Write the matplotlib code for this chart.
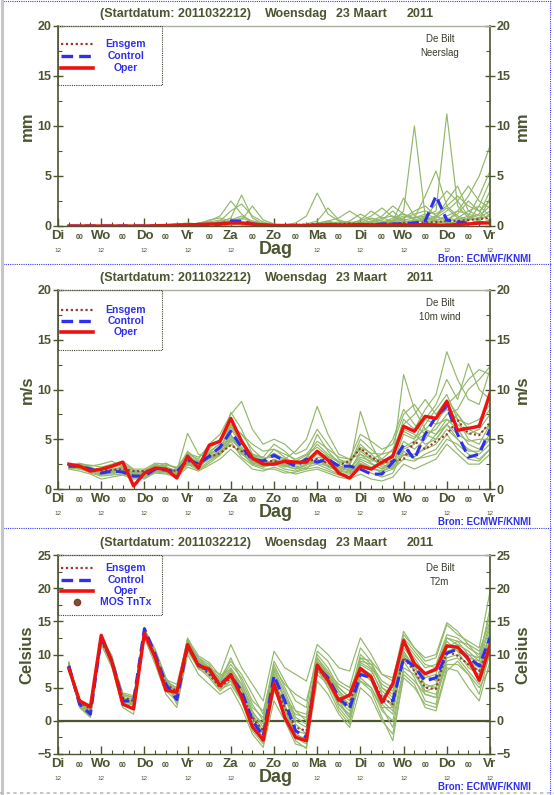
import matplotlib
matplotlib.use("Agg")
import matplotlib.pyplot as plt
from matplotlib.lines import Line2D
from matplotlib.patches import Rectangle

plt.rcParams["font.family"] = ["Liberation Sans", "DejaVu Sans"]

OLIVE = "#4b5530"
GREEN = "#93b86a"
BLUE = "#2f2ff0"
RED = "#ee1111"
ENSGEM = "#9a3a2a"

# forecast hours after 2011032212 (6-hourly, +6h .. +240h)
HOURS = list(range(6, 241, 6))
DAY_NAMES = ["Di", "Wo", "Do", "Vr", "Za", "Zo", "Ma", "Di", "Wo", "Do", "Vr"]

# ---- Neerslag (mm) ----
prec_oper = [0, 0, 0, 0, 0, 0, 0, 0, 0.02, 0.05, 0.1, 0.1, 0.15, 0.2, 0.2, 0.3, 0.3, 0.2, 0.1, 0.05,
             0.05, 0.05, 0.05, 0.1, 0.1, 0.1, 0.1, 0.15, 0.1, 0.1, 0.1, 0.1, 0.1, 0.15, 0.1, 0.1, 0.15, 0.2, 0.3, 0.3]
prec_control = [0, 0, 0, 0, 0, 0, 0, 0, 0, 0, 0.05, 0.1, 0.1, 0.1, 0.2, 0.5, 0.5, 0.2, 0.1, 0.05,
                0.05, 0.05, 0.05, 0.05, 0.1, 0.1, 0.05, 0.1, 0.1, 0.2, 0.2, 0.2, 0.3, 0.5, 3.0, 0.6, 0.4, 0.3, 0.3, 0.4]
prec_ensgem = [0, 0, 0, 0, 0, 0, 0, 0, 0.02, 0.05, 0.1, 0.15, 0.2, 0.2, 0.3, 0.35, 0.3, 0.2, 0.15, 0.1,
               0.1, 0.1, 0.15, 0.2, 0.2, 0.2, 0.25, 0.2, 0.2, 0.2, 0.25, 0.3, 0.35, 0.35, 0.4, 0.5, 0.5, 0.6, 0.7, 0.8]
prec_members = [
    [0, 0, 0, 0, 0, 0, 0, 0, 0, 0, 0, 0.1, 0.3, 0.5, 1.0, 2.5, 1.2, 0.3, 0.1, 0,
     0, 0, 0.1, 0.3, 0.5, 0.2, 0.1, 0.3, 0.8, 0.5, 0.4, 1.5, 10.0, 1.0, 0.5, 0.3, 0.8, 1.5, 2.0, 1.0],
    [0, 0, 0, 0, 0, 0, 0, 0, 0, 0, 0, 0, 0.1, 0.2, 0.4, 0.8, 3.1, 0.8, 0.2, 0,
     0, 0, 0, 0.1, 0.2, 0.1, 0, 0.1, 0.2, 0.4, 0.3, 0.6, 0.8, 1.0, 1.5, 11.2, 2.0, 0.8, 0.5, 1.2],
    [0, 0, 0, 0, 0, 0, 0, 0, 0, 0.1, 0.2, 0.3, 0.2, 0.6, 0.8, 0.5, 0.3, 0.1, 0, 0,
     0.1, 0.3, 1.0, 3.3, 1.2, 0.5, 0.2, 0.3, 0.2, 0.2, 0.4, 0.8, 1.5, 2.0, 1.0, 0.5, 1.5, 3.0, 5.0, 8.0],
    [0, 0, 0, 0, 0, 0, 0, 0, 0, 0, 0, 0, 0, 0.1, 0.3, 0.4, 0.6, 2.0, 0.6, 0.2,
     0.1, 0, 0, 0.2, 0.5, 0.8, 1.5, 0.8, 0.3, 0.2, 0.5, 2.8, 1.0, 0.5, 0.8, 2.5, 4.0, 1.5, 1.0, 2.0],
    [0, 0, 0, 0, 0, 0, 0, 0, 0, 0, 0, 0, 0.1, 0.1, 0.2, 0.3, 0.2, 0.1, 0, 0,
     0, 0, 0, 0, 0.1, 0.2, 0.5, 1.2, 0.6, 0.3, 0.2, 0.2, 0.4, 0.8, 0.5, 0.3, 0.4, 0.8, 1.2, 3.5],
    [0, 0, 0, 0, 0, 0, 0, 0, 0, 0, 0, 0.1, 0.2, 0.2, 0.5, 1.5, 2.2, 1.0, 0.4, 0.1,
     0, 0, 0, 0.1, 0.2, 0.3, 0.2, 0.1, 0.1, 0.3, 0.8, 1.2, 0.8, 3.0, 5.5, 2.0, 1.0, 0.6, 0.8, 1.5],
    [0, 0, 0, 0, 0, 0, 0, 0, 0, 0, 0, 0, 0, 0, 0.1, 0.2, 0.1, 0, 0, 0,
     0, 0, 0, 0, 0, 0.1, 0.1, 0.2, 0.4, 0.6, 1.5, 0.5, 0.3, 0.2, 0.3, 0.6, 1.2, 2.5, 1.5, 0.5],
    [0, 0, 0, 0, 0, 0, 0, 0, 0, 0, 0, 0, 0.2, 0.4, 0.6, 0.4, 0.2, 0.1, 0, 0,
     0, 0, 0.2, 0.5, 1.8, 0.6, 0.3, 0.2, 0.3, 0.8, 1.0, 0.5, 0.4, 0.6, 1.0, 1.8, 0.8, 0.5, 2.0, 4.5],
    [0, 0, 0, 0, 0, 0, 0, 0, 0, 0, 0, 0, 0, 0, 0, 0.1, 0.2, 0.2, 0.1, 0,
     0, 0, 0, 0, 0, 0, 0.1, 0.1, 0.1, 0.2, 0.2, 0.3, 0.2, 0.3, 0.5, 0.4, 0.3, 0.2, 0.3, 0.6],
    [0, 0, 0, 0, 0, 0, 0, 0, 0, 0, 0, 0.05, 0.1, 0.1, 0.2, 0.6, 1.0, 0.5, 0.2, 0.1,
     0, 0, 0.1, 0.2, 0.3, 0.4, 0.3, 0.5, 1.0, 1.8, 0.9, 0.4, 0.6, 0.9, 2.2, 3.5, 2.5, 1.0, 0.6, 2.8],
    [0, 0, 0, 0, 0, 0, 0, 0, 0, 0, 0, 0, 0.1, 0.2, 0.3, 0.5, 0.8, 0.4, 0.1, 0,
     0, 0, 0, 0.2, 0.4, 0.3, 0.2, 0.6, 1.5, 0.8, 0.5, 0.8, 1.2, 1.5, 1.2, 2.0, 3.0, 2.0, 1.5, 2.5],
    [0, 0, 0, 0, 0, 0, 0, 0, 0, 0, 0, 0, 0, 0.1, 0.2, 0.4, 0.3, 0.2, 0.1, 0,
     0, 0, 0, 0, 0.1, 0.1, 0.2, 0.3, 0.2, 0.4, 0.6, 1.0, 0.8, 1.2, 0.8, 1.5, 2.5, 4.0, 2.5, 1.8],
    [0, 0, 0, 0, 0, 0, 0, 0, 0, 0, 0, 0, 0.1, 0.2, 0.2, 0.3, 0.4, 0.3, 0.2, 0.1,
     0, 0, 0, 0.1, 0.2, 0.1, 0.1, 0.2, 0.3, 0.2, 0.3, 0.4, 0.5, 0.7, 0.6, 0.8, 0.6, 1.0, 3.0, 5.5],
    [0, 0, 0, 0, 0, 0, 0, 0, 0, 0, 0, 0, 0, 0, 0.1, 0.2, 0.3, 0.5, 0.3, 0.1,
     0, 0, 0, 0, 0, 0.2, 0.4, 0.3, 0.5, 1.0, 2.0, 1.2, 0.6, 0.4, 0.6, 1.0, 1.5, 1.2, 0.8, 1.0],
]

# ---- 10m wind (m/s) ----
wind_oper = [2.5, 2.3, 1.8, 2.0, 2.3, 2.7, 0.3, 1.6, 2.1, 2.0, 1.1, 3.3, 2.1, 4.4, 4.8, 7.1, 4.8, 3.1, 2.5, 2.5,
             2.8, 2.7, 2.7, 3.8, 2.9, 1.6, 1.1, 2.3, 2.0, 2.7, 3.3, 6.3, 5.8, 7.3, 7.1, 8.8, 5.9, 6.1, 6.3, 9.6]
wind_control = [2.3, 2.3, 2.0, 1.6, 1.8, 1.7, 1.3, 1.3, 2.0, 1.9, 1.7, 3.0, 2.5, 3.3, 4.2, 5.8, 4.2, 3.0, 2.8, 3.4,
                2.8, 2.3, 3.0, 2.7, 3.0, 2.3, 2.3, 2.0, 1.5, 1.5, 2.7, 4.4, 3.0, 5.5, 7.3, 8.3, 5.5, 3.2, 3.5, 6.0]
wind_ensgem = [2.3, 2.2, 2.0, 1.9, 1.9, 2.0, 1.8, 1.8, 2.0, 2.0, 1.8, 2.8, 2.6, 3.2, 3.6, 4.4, 3.8, 3.0, 2.8, 2.8,
               2.7, 2.6, 2.8, 3.0, 2.6, 2.4, 2.8, 4.1, 3.2, 2.6, 2.8, 3.0, 4.8, 4.0, 4.8, 5.5, 6.9, 5.6, 5.4, 6.7]
wind_members = [
    [2.2, 2.5, 2.2, 1.8, 2.2, 2.4, 1.8, 1.5, 2.2, 2.6, 2.0, 3.5, 3.0, 4.5, 5.5, 7.5, 8.8, 6.0, 4.5, 5.0,
     4.5, 3.5, 4.0, 6.0, 4.5, 3.0, 2.5, 4.5, 3.5, 2.5, 3.5, 7.0, 6.0, 8.0, 9.5, 13.8, 11.0, 9.0, 8.5, 12.0],
    [2.0, 1.8, 1.5, 1.0, 1.2, 1.4, 1.0, 1.1, 1.6, 1.5, 1.2, 2.2, 1.8, 2.4, 3.0, 4.0, 3.0, 2.0, 1.8, 2.2,
     1.8, 1.5, 1.8, 2.0, 1.6, 1.2, 1.0, 1.5, 1.0, 0.8, 1.2, 2.5, 2.0, 2.5, 3.0, 4.5, 3.5, 2.5, 2.5, 3.5],
    [2.4, 2.6, 2.3, 2.5, 2.8, 2.2, 1.5, 1.8, 2.5, 2.2, 1.8, 5.6, 3.5, 3.2, 3.8, 6.5, 5.5, 4.0, 3.0, 3.5,
     3.0, 3.8, 5.0, 8.3, 5.5, 3.5, 3.0, 3.5, 3.0, 3.5, 5.0, 8.0, 6.5, 5.5, 6.0, 7.5, 8.0, 10.0, 11.0, 12.3],
    [2.3, 2.0, 1.7, 1.4, 1.6, 1.9, 1.6, 1.9, 2.3, 1.8, 1.5, 2.6, 2.2, 3.8, 4.5, 7.7, 6.0, 3.5, 2.5, 2.8,
     2.4, 2.0, 2.4, 3.5, 2.8, 2.0, 2.2, 7.8, 4.5, 2.5, 2.0, 4.0, 4.5, 6.5, 8.0, 9.5, 7.0, 5.0, 4.5, 6.5],
    [2.1, 2.2, 1.9, 2.1, 2.0, 1.6, 1.2, 1.4, 1.9, 2.0, 1.6, 3.2, 2.4, 3.0, 3.5, 5.0, 4.0, 3.5, 3.2, 4.5,
     3.8, 2.8, 2.5, 3.0, 2.2, 1.8, 1.6, 3.0, 2.5, 2.0, 3.0, 11.5, 8.0, 6.0, 5.5, 7.0, 6.0, 4.5, 4.0, 5.5],
    [2.5, 2.4, 2.1, 1.7, 1.9, 2.1, 1.4, 1.2, 1.8, 2.1, 1.9, 3.8, 2.8, 3.6, 4.0, 5.5, 3.8, 2.6, 2.4, 3.0,
     2.6, 2.5, 3.2, 4.5, 3.5, 2.8, 2.8, 4.0, 3.2, 2.2, 2.5, 5.5, 5.0, 7.0, 8.5, 11.0, 9.0, 12.6, 10.0, 9.0],
    [2.2, 2.1, 1.8, 1.5, 1.7, 2.0, 1.7, 1.6, 2.1, 1.7, 1.4, 2.8, 2.0, 2.8, 3.5, 4.5, 3.5, 2.8, 2.2, 2.5,
     2.0, 1.8, 2.2, 2.5, 2.0, 1.5, 1.5, 2.5, 2.0, 1.8, 2.2, 3.5, 3.5, 4.0, 4.5, 6.0, 5.0, 4.0, 3.5, 4.5],
    [2.4, 2.3, 2.0, 1.9, 2.3, 2.6, 1.9, 1.7, 2.4, 2.3, 1.3, 3.0, 2.6, 4.0, 5.0, 6.8, 5.0, 3.2, 2.6, 2.6,
     2.2, 2.6, 2.8, 5.5, 3.8, 2.6, 2.0, 3.2, 2.8, 3.0, 4.0, 6.5, 7.5, 9.0, 7.5, 9.0, 7.5, 6.0, 6.5, 8.0],
    [2.3, 2.4, 2.2, 1.6, 1.5, 1.8, 1.5, 1.3, 2.0, 1.8, 1.5, 2.4, 2.3, 3.4, 4.2, 6.0, 4.5, 3.0, 2.7, 4.0,
     3.2, 2.4, 2.6, 2.8, 2.6, 2.2, 2.4, 5.0, 4.0, 3.0, 2.5, 4.8, 4.0, 5.0, 6.5, 7.0, 6.5, 5.5, 6.0, 7.5],
    [2.2, 2.2, 1.9, 1.8, 2.1, 1.9, 1.1, 1.5, 2.2, 2.4, 2.2, 3.4, 2.7, 3.2, 3.8, 5.2, 4.2, 2.9, 2.3, 2.4,
     2.6, 2.2, 2.0, 3.2, 3.0, 2.4, 1.8, 2.8, 2.2, 1.6, 2.0, 3.0, 2.8, 3.5, 4.0, 5.5, 4.0, 3.0, 2.8, 4.0],
    [2.4, 2.1, 1.6, 1.3, 1.4, 1.5, 1.2, 1.0, 1.7, 1.6, 1.3, 2.5, 1.9, 2.6, 3.4, 4.8, 3.2, 2.4, 2.0, 2.0,
     1.6, 1.7, 2.0, 2.2, 1.8, 1.4, 1.2, 2.0, 1.6, 1.2, 1.6, 3.8, 3.0, 3.2, 3.5, 5.0, 4.5, 3.5, 3.0, 4.0],
    [2.3, 2.5, 2.4, 2.2, 2.5, 2.8, 2.0, 2.0, 2.6, 2.5, 2.1, 3.6, 3.2, 4.2, 4.8, 6.2, 5.5, 4.5, 3.8, 4.0,
     3.5, 3.0, 3.5, 4.8, 4.0, 3.2, 3.0, 5.5, 4.8, 4.0, 4.5, 7.5, 8.5, 7.0, 6.5, 8.5, 9.5, 11.0, 12.0, 11.5],
    [2.1, 2.0, 1.8, 1.7, 1.9, 1.8, 1.4, 1.4, 1.9, 1.9, 1.7, 2.9, 2.3, 3.0, 3.8, 5.4, 3.6, 2.5, 2.2, 2.7,
     2.3, 2.0, 2.4, 3.0, 2.4, 1.9, 2.0, 3.5, 2.6, 2.0, 2.4, 4.2, 4.8, 5.5, 5.0, 6.5, 5.5, 4.8, 5.0, 5.0],
    [2.5, 2.3, 2.1, 1.8, 2.0, 2.2, 1.6, 1.6, 2.3, 2.2, 1.8, 3.1, 2.7, 3.6, 4.6, 6.5, 4.8, 3.4, 3.1, 3.2,
     2.9, 2.8, 3.4, 4.2, 3.3, 2.7, 2.6, 4.2, 3.6, 3.5, 3.8, 5.8, 5.2, 6.0, 7.0, 8.0, 7.0, 6.5, 7.0, 8.5],
    [2.2, 2.4, 2.0, 1.6, 1.8, 2.3, 1.5, 1.7, 2.0, 2.0, 1.6, 2.7, 2.1, 3.4, 4.0, 6.3, 4.6, 3.3, 2.9, 3.6,
     3.0, 2.6, 2.9, 3.8, 3.2, 2.2, 1.8, 3.8, 3.0, 2.4, 3.2, 6.0, 5.5, 4.5, 5.0, 6.5, 7.5, 6.0, 5.5, 6.5],
    [2.3, 2.2, 1.9, 1.7, 1.8, 1.9, 1.3, 1.2, 1.8, 1.7, 1.5, 2.6, 2.2, 3.1, 3.6, 5.0, 3.9, 2.7, 2.5, 2.9,
     2.5, 2.2, 2.5, 2.6, 2.3, 1.9, 1.7, 2.6, 2.1, 1.8, 2.3, 3.4, 3.2, 4.2, 5.5, 6.5, 5.0, 3.8, 3.8, 5.0],
]

# ---- T2m (Celsius) ----
t2m_oper = [7.9, 3.0, 2.1, 12.9, 8.8, 2.5, 1.8, 13.2, 9.5, 4.6, 4.3, 11.5, 8.3, 7.8, 5.3, 7.0, 3.6, -0.9, -2.9, 5.6,
            0.5, -2.5, -3.0, 8.4, 6.1, 3.1, 3.9, 7.9, 6.6, 2.8, 5.6, 12.1, 8.6, 7.1, 7.8, 11.3, 11.1, 9.3, 6.1, 11.3]
t2m_control = [8.3, 2.5, 1.0, 12.5, 9.0, 3.0, 3.0, 13.9, 10.0, 5.5, 3.2, 11.3, 8.5, 7.5, 5.5, 6.8, 4.5, 0.0, -2.3, 6.8,
               3.0, -1.5, -2.5, 8.2, 6.5, 3.5, 1.8, 7.0, 6.5, 3.0, 3.0, 9.4, 8.2, 6.0, 6.5, 10.2, 10.8, 9.5, 8.3, 12.5]
t2m_ensgem = [8.2, 2.8, 1.8, 12.0, 9.0, 3.5, 3.0, 13.0, 9.8, 5.5, 4.5, 11.0, 8.5, 7.0, 5.0, 6.5, 4.0, 0.5, -1.5, 5.5,
              2.0, -1.0, -1.5, 8.0, 6.0, 3.0, 2.5, 8.0, 6.5, 3.5, 2.5, 9.5, 7.5, 5.0, 4.8, 10.5, 9.8, 8.5, 7.5, 11.5]
t2m_members = [
    [8.8, 3.0, 2.0, 12.0, 9.5, 4.0, 3.5, 13.0, 10.5, 6.0, 5.0, 12.5, 9.0, 8.0, 6.5, 9.0, 7.0, 4.0, 1.0, 9.0,
     6.0, 3.0, 2.0, 10.5, 9.0, 6.0, 5.0, 11.0, 9.0, 5.0, 4.0, 12.0, 10.0, 8.0, 8.5, 13.0, 12.5, 11.0, 10.0, 16.0],
    [7.8, 2.0, 0.5, 11.5, 8.0, 2.0, 1.0, 12.5, 8.5, 4.0, 2.0, 10.0, 7.0, 5.5, 4.0, 5.0, 2.0, -2.0, -4.0, 3.0,
     0.0, -3.5, -4.0, 6.0, 4.0, 1.0, -1.0, 5.0, 3.5, 0.0, -2.0, 6.5, 5.0, 2.5, 2.0, 8.0, 7.5, 5.0, 3.0, 9.0],
    [8.5, 2.8, 1.5, 12.8, 9.8, 3.5, 2.5, 13.5, 10.5, 5.0, 4.0, 11.8, 9.5, 8.5, 6.0, 8.0, 5.5, 1.5, -1.0, 7.5,
     4.0, 0.0, -1.0, 9.5, 7.0, 3.0, 0.5, 8.5, 7.5, 4.5, 3.0, 11.0, 9.0, 6.5, 7.0, 12.5, 11.5, 9.0, 8.0, 13.0],
    [8.0, 2.2, 1.2, 11.8, 8.5, 3.2, 3.5, 14.0, 9.0, 4.5, 3.0, 10.5, 8.0, 6.5, 4.5, 6.0, 3.5, 0.5, -2.0, 5.0,
     1.0, -2.5, -3.5, 7.0, 5.5, 2.5, 1.0, 6.5, 5.0, 1.5, 0.0, 8.0, 7.0, 4.5, 4.0, 9.5, 10.0, 8.5, 6.5, 11.0],
    [8.6, 3.2, 2.2, 12.2, 9.2, 4.2, 3.8, 12.8, 9.6, 6.2, 5.5, 12.0, 9.5, 8.0, 7.0, 11.5, 8.0, 5.5, 3.0, 10.5,
     8.0, 7.0, 6.0, 11.5, 10.0, 8.0, 7.5, 12.5, 10.0, 7.0, 6.0, 13.5, 11.0, 9.0, 9.5, 14.5, 13.0, 12.0, 11.0, 19.5],
    [8.1, 2.6, 0.8, 12.6, 9.0, 2.5, 2.0, 13.6, 10.2, 5.8, 2.5, 11.0, 8.8, 7.2, 5.2, 7.2, 4.0, -1.0, -3.0, 6.0,
     2.5, -2.0, -3.0, 8.8, 7.0, 4.0, 2.5, 8.0, 7.0, 2.5, 1.0, 10.0, 8.5, 5.0, 5.5, 11.0, 11.5, 10.5, 9.0, 14.0],
    [8.4, 2.4, 1.6, 12.4, 8.8, 3.8, 3.2, 13.2, 9.8, 5.2, 4.5, 11.5, 8.2, 7.6, 6.0, 7.0, 4.8, 1.0, -1.5, 7.0,
     3.5, -0.5, -2.0, 8.5, 6.0, 2.0, 0.0, 7.5, 6.0, 3.5, 2.5, 9.0, 6.5, 3.0, 2.5, 10.5, 11.0, 10.0, 8.5, 12.0],
    [7.6, 2.9, 1.4, 12.9, 9.4, 2.8, 2.6, 13.8, 10.8, 6.5, 3.8, 12.2, 8.6, 6.8, 4.8, 5.5, 3.0, -1.5, -3.5, 4.5,
     1.5, -2.0, -2.8, 7.5, 6.8, 5.0, 3.5, 9.5, 8.0, 5.5, 4.5, 10.5, 7.5, 4.0, 3.5, 9.0, 9.5, 7.5, 5.5, 10.0],
    [8.9, 2.1, 0.7, 12.1, 9.6, 3.4, 2.8, 13.3, 9.2, 4.8, 3.5, 10.8, 7.8, 7.0, 5.8, 9.5, 6.0, 2.5, 0.0, 8.5,
     5.0, 1.5, 1.0, 9.0, 6.5, 3.0, 1.5, 9.0, 8.5, 6.0, 5.0, 11.5, 9.5, 7.0, 6.0, 11.0, 12.0, 11.5, 10.5, 15.0],
    [8.2, 2.7, 1.1, 12.7, 8.6, 3.0, 3.1, 13.7, 10.3, 5.6, 3.0, 11.6, 9.2, 8.2, 5.5, 6.2, 4.2, 0.0, -2.5, 6.5,
     2.0, -3.0, -4.2, 7.8, 5.0, 1.5, -0.5, 7.0, 6.5, 3.0, 1.5, 9.5, 8.5, 7.0, 7.5, 12.0, 10.5, 8.0, 7.0, 13.5],
    [8.3, 2.3, 0.9, 12.3, 9.1, 3.1, 2.9, 13.9, 10.1, 5.4, 3.1, 11.2, 8.7, 7.8, 5.7, 7.5, 5.5, 2.0, 0.5, 7.0,
     3.0, 1.0, 0.5, 7.5, 6.0, 3.5, 2.0, 6.0, 5.0, 2.0, -1.0, 7.5, 6.0, 4.0, 3.5, 8.5, 8.5, 7.0, 5.0, 8.0],
    [8.0, 3.1, 2.4, 12.6, 9.3, 3.6, 2.2, 13.4, 9.9, 6.0, 4.8, 12.4, 9.8, 8.8, 6.8, 7.8, 4.5, 0.8, -2.0, 6.5,
     3.5, 1.5, 0.0, 10.0, 8.0, 5.0, 3.5, 10.0, 8.5, 5.0, 3.5, 13.0, 11.0, 9.5, 10.0, 14.8, 13.5, 11.5, 9.5, 14.5],
    [8.7, 2.6, 1.3, 12.0, 8.4, 2.6, 2.4, 13.1, 9.4, 5.0, 3.8, 10.6, 8.0, 7.4, 5.0, 6.0, 3.0, -1.0, -3.0, 5.5,
     2.0, -1.5, -2.0, 8.0, 5.5, 2.5, 0.5, 6.0, 4.5, 0.5, -3.0, 7.0, 5.5, 2.0, 1.5, 7.5, 9.0, 7.0, 4.0, 10.5],
    [8.1, 2.5, 1.7, 13.0, 9.5, 3.3, 3.3, 13.6, 10.4, 6.1, 4.2, 11.9, 9.0, 7.9, 6.2, 8.5, 6.5, 3.0, 1.5, 8.0,
     5.5, 4.0, 3.0, 9.5, 7.5, 4.5, 3.0, 9.5, 9.0, 7.0, 6.5, 12.5, 10.5, 8.5, 8.0, 12.5, 12.0, 10.0, 9.5, 12.5],
    [8.5, 2.9, 1.9, 12.4, 8.9, 2.9, 2.7, 13.5, 9.7, 5.3, 3.6, 11.7, 8.4, 7.3, 5.1, 6.6, 3.8, -0.5, -3.2, 5.8,
     1.8, -2.2, -3.2, 8.6, 6.8, 4.5, 2.0, 7.8, 6.0, 2.0, 2.0, 9.8, 7.5, 4.5, 5.0, 10.0, 11.0, 9.0, 7.5, 12.0],
    [7.9, 2.4, 1.0, 12.6, 9.1, 3.9, 3.6, 13.0, 9.3, 5.7, 4.6, 11.4, 8.9, 7.7, 5.6, 7.7, 5.0, 1.2, -0.5, 7.8,
     4.5, 0.5, -0.5, 9.0, 7.2, 5.5, 4.5, 8.8, 7.8, 4.0, 2.0, 10.5, 8.0, 5.5, 5.0, 11.5, 10.5, 9.5, 9.0, 17.0],
]

W, H = 554, 795


def add_panel(fig, y_top, y_bot):
  x0, x1 = 58, 490
  return fig.add_axes([x0 / W, 1 - y_bot / H, (x1 - x0) / W, (y_bot - y_top) / H])


def draw_title(ax):
  pieces = [("(Startdatum: 2011032212)", 0.097), ("Woensdag", 0.479),
            ("23 Maart", 0.644), ("2011", 0.806)]
  for text, x in pieces:
    ax.text(x, 1.062, text, transform=ax.transAxes, ha="left", va="center",
            fontsize=9, fontweight="bold", color=OLIVE)


def draw_legend(ax, entries, rows, bottom):
  ax.add_patch(Rectangle((0, bottom), 0.241, 1 - bottom, transform=ax.transAxes,
                         fill=False, edgecolor="#444433", linestyle=(0, (1, 1)), lw=0.8,
                         clip_on=False, zorder=10))
  for (label, style), y in zip(entries, rows):
    if style == "dot":
      ax.plot([0.044], [y], transform=ax.transAxes, marker="o", ms=4.5,
              color="#6a5a3a", mec="#8a3a2a", clip_on=False, zorder=11)
    else:
      ax.add_line(Line2D([0.008, 0.08], [y, y], transform=ax.transAxes, clip_on=False,
                         zorder=11, **style))
    ax.text(0.157, y, label, transform=ax.transAxes, ha="center", va="center",
            fontsize=7.5, fontweight="bold", color=BLUE, zorder=11)


def style_axes(ax, ylim, major, minor, ylabel, station):
  ax.set_xlim(0, 240)
  ax.set_ylim(*ylim)
  ax.set_xticks(list(range(0, 241, 24)))
  ax.set_xticklabels(DAY_NAMES)
  six = [h for h in range(6, 240, 6) if h % 24]
  ax.set_xticks(six, minor=True)
  ax.set_xticklabels(["00" if h % 24 == 12 else "" for h in six], minor=True)
  ax.tick_params(axis="x", which="major", direction="in", length=6, width=1, color=OLIVE,
                 labelsize=9.5, labelcolor=OLIVE, pad=3, top=False)
  ax.tick_params(axis="x", which="minor", direction="in", length=3, width=0.8, color=OLIVE,
                 labelsize=5, labelcolor=OLIVE, pad=6, top=False)
  for lab in ax.get_xticklabels():
    lab.set_fontweight("bold")
  for lab in ax.get_xticklabels(minor=True):
    lab.set_fontweight("bold")

  ax.set_yticks(major)
  ax.set_yticks(minor, minor=True)
  ax.tick_params(axis="y", which="major", direction="inout", length=7, width=1, color=OLIVE,
                 labelsize=9, labelcolor=OLIVE, left=True, right=True, labelleft=True,
                 labelright=True, pad=1)
  ax.tick_params(axis="y", which="minor", direction="in", length=3, width=0.8, color=OLIVE,
                 left=True, right=True)
  for lab in ax.get_yticklabels():
    lab.set_fontweight("bold")

  for side in ("left", "right"):
    ax.spines[side].set_color(OLIVE)
    ax.spines[side].set_linewidth(1.2)
  ax.spines["bottom"].set_color(OLIVE)
  ax.spines["bottom"].set_linestyle((0, (2, 1)))
  ax.spines["bottom"].set_linewidth(1.0)
  ax.spines["top"].set_color("#aab0a0")
  ax.spines["top"].set_linewidth(1.0)

  # "12" under each day name, except where the axis title sits
  for d in range(11):
    if d == 5:
      continue
    ax.text(d * 24, -0.121, "12", transform=ax.get_xaxis_transform(), ha="center",
            va="center", fontsize=4.5, color=OLIVE)
  ax.text(0.505, -0.118, "Dag", transform=ax.transAxes, ha="center", va="center",
          fontsize=13, fontweight="bold", color=OLIVE)
  ax.text(-0.072, 0.5, ylabel, transform=ax.transAxes, rotation=90, ha="center",
          va="center", fontsize=12, fontweight="bold", color=OLIVE)
  ax.text(1.076, 0.5, ylabel, transform=ax.transAxes, rotation=90, ha="center",
          va="center", fontsize=12, fontweight="bold", color=OLIVE)
  ax.text(0.884, 0.935, "De Bilt", transform=ax.transAxes, ha="center", va="center",
          fontsize=7, color="#3a3a2a")
  ax.text(0.884, 0.865, station, transform=ax.transAxes, ha="center", va="center",
          fontsize=7, color="#3a3a2a")
  ax.text(0.88, -0.166, "Bron: ECMWF/KNMI", transform=ax.transAxes, ha="left",
          va="center", fontsize=7, fontweight="bold", color=BLUE)
  draw_title(ax)


def draw_series(ax, members, ensgem, control, oper):
  for m in members:
    ax.plot(HOURS, m, color=GREEN, lw=0.85, zorder=2)
  ax.plot(HOURS, ensgem, color=ENSGEM, lw=1.5, linestyle=(0, (1, 1.2)), zorder=3)
  ax.plot(HOURS, control, color=BLUE, lw=2.2, linestyle=(0, (3.5, 1.8)), zorder=4)
  ax.plot(HOURS, oper, color=RED, lw=2.4, zorder=5)


LEG_ENSGEM = dict(color=ENSGEM, lw=1.6, linestyle=(0, (1, 1.2)))
LEG_CONTROL = dict(color=BLUE, lw=2.4, linestyle=(0, (3.5, 1.8)))
LEG_OPER = dict(color=RED, lw=2.6)
LEG3 = [("Ensgem", LEG_ENSGEM), ("Control", LEG_CONTROL), ("Oper", LEG_OPER)]

fig = plt.figure(figsize=(W / 100, H / 100), dpi=100)

# top: precipitation
ax1 = add_panel(fig, 26, 226)
draw_series(ax1, prec_members, prec_ensgem, prec_control, prec_oper)
style_axes(ax1, (0, 20), [0, 5, 10, 15, 20], [2.5, 7.5, 12.5, 17.5], "mm", "Neerslag")
draw_legend(ax1, LEG3, [0.91, 0.85, 0.79], 0.705)

# middle: wind
ax2 = add_panel(fig, 290, 489)
draw_series(ax2, wind_members, wind_ensgem, wind_control, wind_oper)
style_axes(ax2, (0, 20), [0, 5, 10, 15, 20], [2.5, 7.5, 12.5, 17.5], "m/s", "10m wind")
draw_legend(ax2, LEG3, [0.90, 0.845, 0.79], 0.70)

# bottom: temperature
ax3 = add_panel(fig, 555, 754)
ax3.axhline(0, color=OLIVE, lw=1.6, zorder=1)
draw_series(ax3, t2m_members, t2m_ensgem, t2m_control, t2m_oper)
style_axes(ax3, (-5, 25), [-5, 0, 5, 10, 15, 20, 25], [-2.5, 2.5, 7.5, 12.5, 17.5, 22.5],
           "Celsius", "T2m")
draw_legend(ax3, LEG3 + [("MOS TnTx", "dot")], [0.935, 0.874, 0.82, 0.764], 0.70)

# frame and panel separators
sep = dict(color="#3c3cf0", lw=0.8, linestyle=(0, (1, 1)))
for y in (1, 264, 528):
  fig.add_artist(Line2D([0.006, 0.994], [1 - y / H, 1 - y / H], transform=fig.transFigure, **sep))
fig.add_artist(Line2D([550 / W, 550 / W], [0, 1], transform=fig.transFigure, **sep))
fig.add_artist(Line2D([1.5 / W, 1.5 / W], [0, 1], transform=fig.transFigure, color="#c4c8c4", lw=2.2))
fig.add_artist(Line2D([0, 1], [2 / H, 2 / H], transform=fig.transFigure, color="#b8bcb8", lw=1.2,
                      linestyle=(0, (2, 2))))

fig.savefig("out.png", dpi=100)
